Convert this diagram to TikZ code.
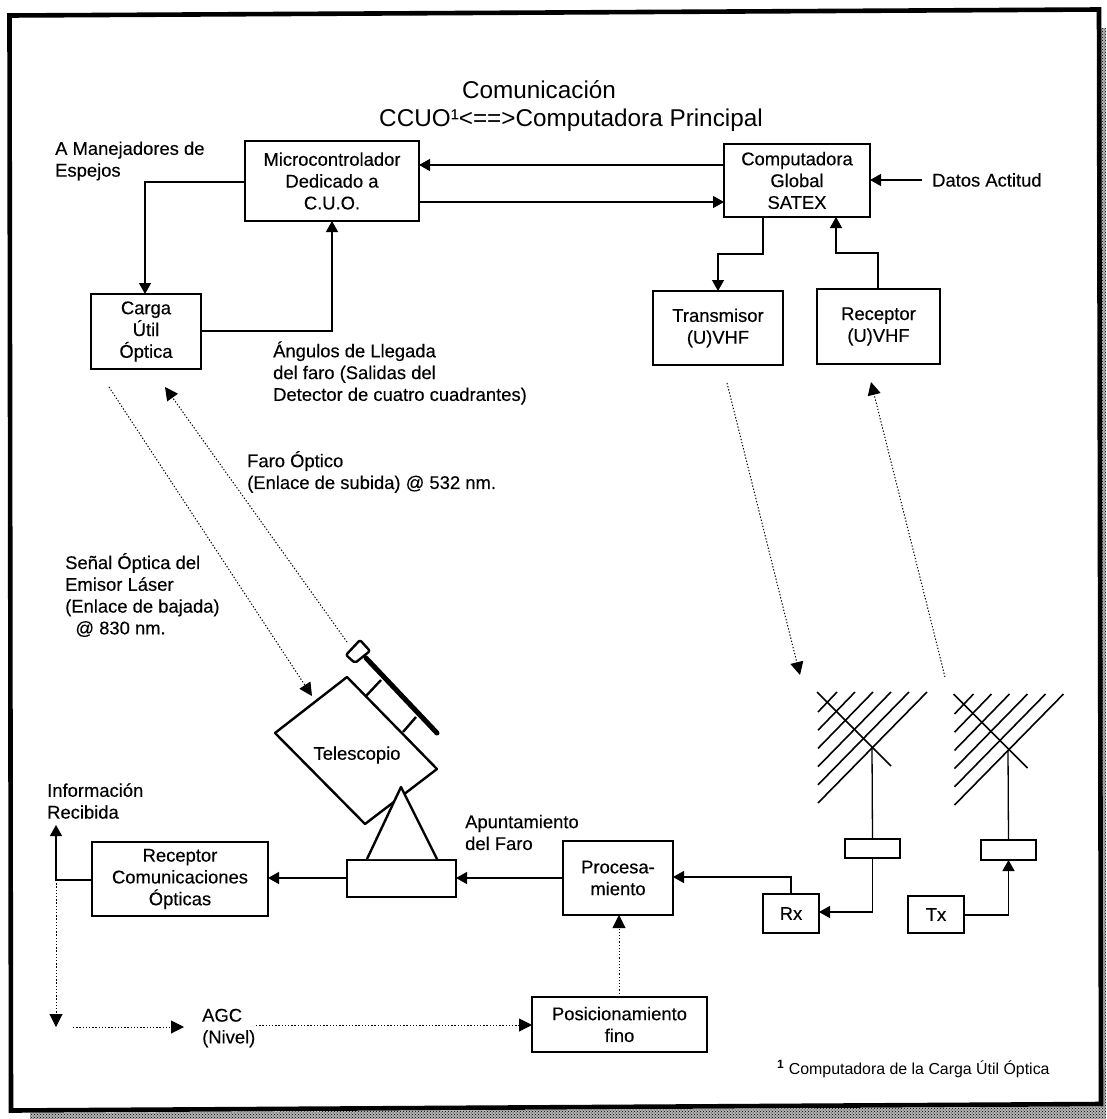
\documentclass[tikz,border=0pt]{standalone}
\usepackage{fontspec}
\setmainfont{Liberation Sans}
\usetikzlibrary{arrows.meta,calc,patterns}
\newcommand{\lbl}{\fontsize{18.4}{21.8}\selectfont\addfontfeatures{FakeBold=0.25}}
\newcommand{\ttl}{\fontsize{24.3}{30}\selectfont}
\tikzset{
  x=1pt,y=-1pt,
  boxn/.style={draw=black,line width=2.4pt,fill=white,align=center,inner sep=0pt,outer sep=0pt,font=\lbl},
  thinbox/.style={draw=black,line width=1.3pt,fill=white,inner sep=0pt,outer sep=0pt},
  txt/.style={align=left,inner sep=0pt,font=\lbl,anchor=west},
  wire/.style={draw=black,line width=1.3pt},
  arr/.style={wire,-{Triangle[length=11pt,width=12pt]}},
  dot/.style={draw=black,line width=1pt,dash pattern=on 1.3pt off 1.9pt},
  dotarr/.style={dot,-{Triangle[length=13pt,width=13pt]}},
  ant/.style={draw=black,line width=1.6pt},
  scope3/.style={draw=black,line width=2.4pt,line join=round},
  shadowstrip/.style={fill=gray!60}
}
\begin{document}
\begin{tikzpicture}
\useasboundingbox (0,0) rectangle (1106,1119);
% frame and its shadow
\fill[shadowstrip] (30,1113) -- (1101,1106.5) -- (1101,28) -- (1106,28) -- (1106,1119) -- (30,1119) -- cycle;
\fill[pattern=crosshatch dots,pattern color=black] (30,1113) -- (1101,1106.5) -- (1101,28) -- (1106,28) -- (1106,1119) -- (30,1119) -- cycle;
\draw[black,line width=4.6pt,line join=miter] (9.5,15.5) -- (1099,9.5) -- (1101,1104) -- (11,1110.5) -- cycle;
% boxes
\node[boxn,minimum width=174pt,minimum height=80pt] (mc) at (332,181) {Microcontrolador\\Dedicado a\\C.U.O.};
\node[boxn,minimum width=146pt,minimum height=73pt] (cg) at (797,180.5) {Computadora\\Global\\SATEX};
\node[boxn,minimum width=110pt,minimum height=75pt] (cu) at (146,331.5) {Carga\\Útil\\Óptica};
\node[boxn,minimum width=130pt,minimum height=74pt] (tr) at (718,328) {Transmisor\\(U)VHF};
\node[boxn,minimum width=123pt,minimum height=75pt] (re) at (878.5,326.5) {Receptor\\(U)VHF};
\node[boxn,minimum width=176pt,minimum height=74pt] (rc) at (180,879) {Receptor\\Comunicaciones\\Ópticas};
\node[boxn,minimum width=109pt,minimum height=37pt] (ba) at (401.5,878.5) {};
\node[boxn,minimum width=110pt,minimum height=74pt] (pr) at (618,878) {Procesa-\\miento};
\node[boxn,minimum width=175pt,minimum height=55pt] (po) at (619.5,1024.5) {Posicionamiento\\fino};
\node[boxn,minimum width=56pt,minimum height=39pt] (rx) at (791,913.5) {Rx};
\node[boxn,minimum width=56pt,minimum height=37pt] (tx) at (936,914.5) {Tx};
\node[thinbox,minimum width=55pt,minimum height=19pt] (sa) at (872.5,848.5) {};
\node[thinbox,minimum width=55pt,minimum height=20pt] (sb) at (1008.5,850) {};
% free-end points
\coordinate (datos) at (922,180);
\coordinate (iup) at (56,825);
\coordinate (idn) at (56,1027);
\coordinate (ilft) at (56,880);
\coordinate (agcin) at (73,1027);
\coordinate (agcend) at (184,1027);
\coordinate (agcout) at (256,1025);
\coordinate (a1top) at (872,748);
\coordinate (a2top) at (1008,750);
\coordinate (d1a) at (109,387);
\coordinate (d1b) at (312,696);
\coordinate (d2a) at (347,642);
\coordinate (d2b) at (165,387);
\coordinate (d3a) at (727,383);
\coordinate (d3b) at (800,675);
\coordinate (d4a) at (945,677);
\coordinate (d4b) at (871,382);
% connectors
\draw[arr] (mc.west |- 0,182) -| (cu.north -| 145,0);
\draw[arr] (cu.east |- 0,331) -| (mc.south -| 332,0);
\draw[arr] (cg.west |- 0,165) -- (mc.east |- 0,165);
\draw[arr] (mc.east |- 0,202) -- (cg.west |- 0,202);
\draw[arr] (datos) -- (cg.east |- datos);
\draw[arr] (cg.south -| 763,0) -- (763,254) -| (tr.north -| 718,0);
\draw[arr] (re.north -| 878,0) -- (878,253) -| (cg.south -| 836,0);
\draw[arr] (pr.west |- 0,878) -- (ba.east |- 0,878);
\draw[arr] (ba.west |- 0,878) -- (rc.east |- 0,878);
\draw[arr] (rc.west |- ilft) -- (ilft) -- (iup);
\draw[dotarr] (ilft) -- (idn);
\draw[arr] (sa.south) |- (rx.east |- 0,912);
\draw[arr] (rx.north) |- (pr.east |- 0,877);
\draw[arr] (tx.east |- 0,915) -| (sb.south);
\draw[dotarr] (po.north -| 619,0) -- (pr.south -| 619,0);
% AGC
\node[inner sep=0pt,font=\lbl,align=left,anchor=west] (agc) at (202,1028) {AGC\\(Nivel)};
\draw[dotarr] (agcin) -- (agcend);
\draw[dotarr] (agcout) -- (po.west |- agcout);
% dotted optical links
\draw[dotarr] (d1a) -- (d1b);
\draw[dotarr] (d2a) -- (d2b);
\draw[dotarr] (d3a) -- (d3b);
\draw[dotarr] (d4a) -- (d4b);
% antennas
\foreach \dx/\dy in {0/0,136.5/2}{
  \begin{scope}[shift={(\dx,\dy)}]
    \draw[ant] (817,692) -- (891,766);
    \foreach \i in {0,...,5}{
      \draw[ant] (818,712+18.2*\i) -- (837+18*\i,692);
    }
  \end{scope}
}
\draw[wire] (a1top) -- (sa.north);
\draw[wire] (a2top) -- (sb.north);
% telescope
\draw[scope3,fill=white] (347,677) -- (275,733) -- (365,824) -- (437,769) -- cycle;
\node[inner sep=0pt,font=\lbl] (tel) at (357,755) {Telescopio};
\draw[scope3,fill=white] (367,859) -- (401,787) -- (437,859);
\draw[scope3] (366,696) -- (381,680);
\draw[scope3] (403,732) -- (416,717);
\draw[black,line width=5pt,line cap=round] (366,658) -- (437,733);
\draw[scope3,fill=white,rounded corners=2pt] (360,640) -- (370,651) -- (355,663) -- (346,655) -- cycle;
% texts
\node[inner sep=0pt,font=\ttl] (t0) at (539,90) {Comunicación};
\node[inner sep=0pt,font=\ttl] (t1) at (571,120) {CCUO¹<==>Computadora Principal};
\node[txt] (t2) at (55,161) {A Manejadores de\\Espejos};
\node[txt] (t3) at (932,180) {Datos Actitud};
\node[txt] (t4) at (273,373) {Ángulos de Llegada\\del faro (Salidas del\\Detector de cuatro cuadrantes)};
\node[txt] (t5) at (247,472) {Faro Óptico\\(Enlace de subida) @ 532 nm.};
\node[txt] (t6) at (65,595) {Señal Óptica del\\Emisor Láser\\(Enlace de bajada)\\\ \ @ 830 nm.};
\node[txt] (t7) at (47,801) {Información\\Recibida};
\node[txt] (t8) at (465,832.5) {Apuntamiento\\del Faro};
\node[inner sep=0pt,anchor=west,font=\fontsize{15.9}{19}\selectfont] (t9) at (777,1069) {\raisebox{6pt}{\fontsize{12}{12}\selectfont\bfseries 1}\hspace{5pt}Computadora de la Carga Útil Óptica};
\end{tikzpicture}
\end{document}
